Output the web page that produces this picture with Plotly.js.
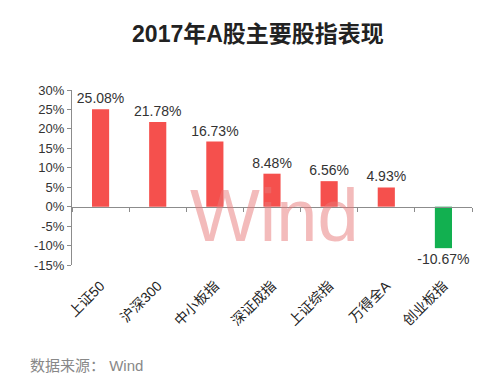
<!DOCTYPE html>
<html>
<head>
<meta charset="utf-8">
<script src="https://cdn.plot.ly/plotly-3.0.1.min.js"></script>
<style>html,body{margin:0;padding:0;background:#fff;}#chart{width:499px;height:379px;}</style>
</head>
<body>
<div id="chart"></div>
<script>
const categories = ["上证50", "沪深300", "中小板指", "深证成指", "上证综指", "万得全A", "创业板指"];
const values = [25.08, 21.78, 16.73, 8.48, 6.56, 4.93, -10.67];
const labels = ["25.08%", "21.78%", "16.73%", "8.48%", "6.56%", "4.93%", "-10.67%"];
const yTicks = [30, 25, 20, 15, 10, 5, 0, -5, -10, -15];

const font = '"Liberation Sans", Arial, "Noto Sans CJK SC", sans-serif';
const colors = values.map(v => v >= 0 ? '#F5504D' : '#12B050');

const traces = [
  {
    type: 'bar', x: categories, y: values,
    marker: {color: colors},
    text: labels, textposition: 'outside', cliponaxis: false, constraintext: 'none',
    textfont: {family: font, size: 14, color: '#333'},
    hoverinfo: 'skip'
  },
  {
    type: 'scatter', x: categories, y: values, xaxis: 'x2', yaxis: 'y',
    mode: 'markers', marker: {opacity: 0}, hoverinfo: 'skip', showlegend: false
  }
];

const layout = {
  width: 499, height: 379,
  margin: {l: 72, r: 27, t: 90, b: 114},
  paper_bgcolor: '#fff', plot_bgcolor: '#fff',
  showlegend: false,
  bargap: 0.7,
  title: {text: '<b>2017年A股主要股指表现</b>', x: 0.517, xanchor: 'center', y: 0.91, yanchor: 'middle',
          font: {family: font, size: 23, color: '#222'}},
  xaxis: {
    type: 'category', showline: false, ticks: '', showgrid: false, zeroline: false,
    tickangle: -45, ticklabelstandoff: 9, tickfont: {family: font, size: 14, color: '#222'}
  },
  xaxis2: {
    type: 'category', overlaying: 'x', matches: 'x', anchor: 'free', position: 1/3,
    showline: true, linecolor: '#8c8c8c', linewidth: 1,
    ticks: 'outside', tickson: 'boundaries', ticklen: 4, tickcolor: '#8c8c8c',
    showticklabels: false, showgrid: false, zeroline: false
  },
  yaxis: {
    range: [-15, 30], tickvals: yTicks, ticktext: yTicks.map(v => v + '%'),
    showline: true, linecolor: '#8c8c8c', linewidth: 1,
    ticks: 'outside', ticklen: 4, tickcolor: '#8c8c8c',
    showgrid: false, zeroline: false,
    tickfont: {family: font, size: 13, color: '#333'}
  },
  annotations: [
    {text: 'Wind', xref: 'paper', yref: 'paper', x: 0.505, y: 0.285, xanchor: 'center', yanchor: 'middle',
     showarrow: false, font: {family: font, size: 74, color: 'rgba(232,120,120,0.5)'}},
    {text: '数据来源： Wind', xref: 'paper', yref: 'paper', x: -0.11, y: -0.575, xanchor: 'left', yanchor: 'middle',
     showarrow: false, font: {family: font, size: 15, color: '#888'}}
  ]
};

Plotly.newPlot('chart', traces, layout, {displayModeBar: false, staticPlot: true});
</script>
</body>
</html>
